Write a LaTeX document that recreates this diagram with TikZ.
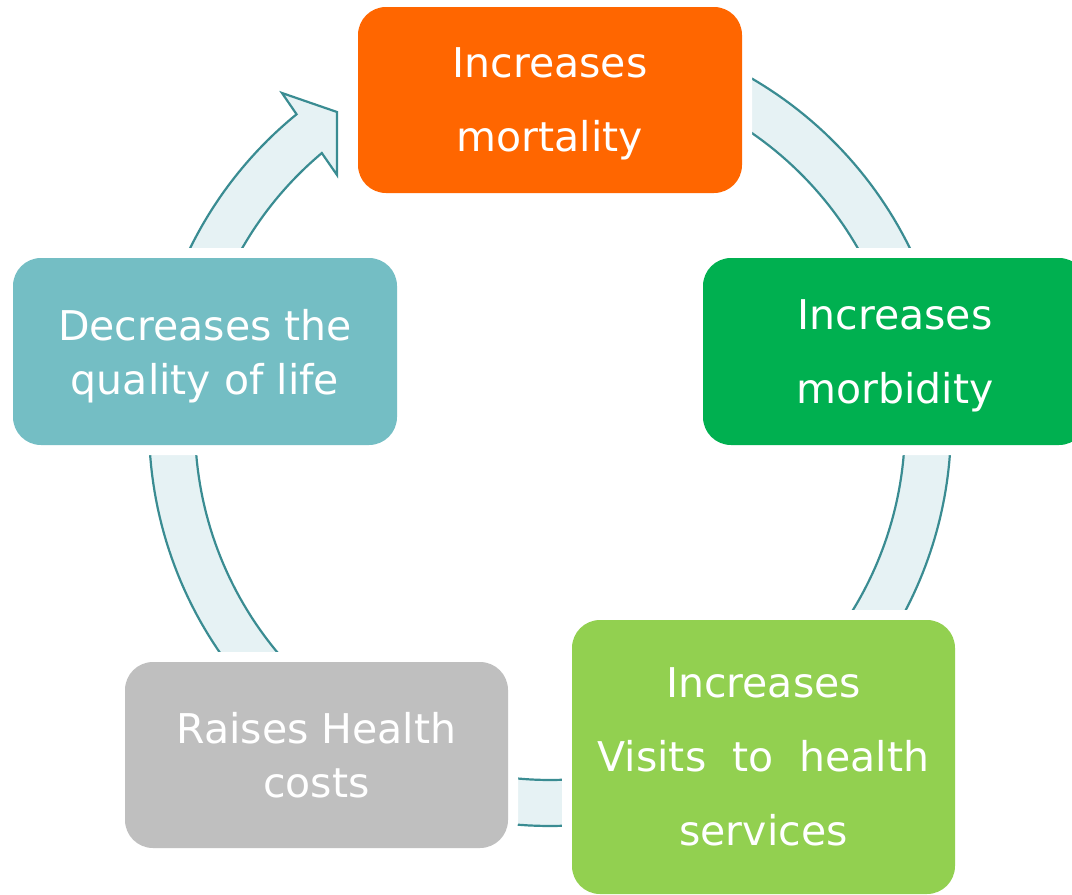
\documentclass[tikz,border=0pt]{standalone}
\usepackage{fontspec}
\setmainfont{DejaVu Sans}
\definecolor{cOrange}{RGB}{255,102,0}
\definecolor{cGreen}{RGB}{0,176,80}
\definecolor{cLime}{RGB}{146,208,80}
\definecolor{cGray}{RGB}{191,191,191}
\definecolor{cTeal}{RGB}{116,190,196}
\definecolor{ringFill}{RGB}{230,242,244}
\definecolor{ringLine}{RGB}{58,140,146}
\begin{document}
\begin{tikzpicture}[x=1pt,y=-1pt,
  box/.style={rounded corners=28pt, fill=#1, text=white, align=center, inner sep=0pt,
              preaction={draw=white, line width=20pt}},
  wide/.style={font=\fontsize{41}{74}\selectfont},
  tight/.style={font=\fontsize{41}{54}\selectfont},
  nodesc/.style={text depth=0pt},
  ring/.style={fill=ringFill, draw=ringLine, line width=2.2pt}]
\useasboundingbox (0,0) rectangle (1072,895);
% ring segments
\draw[ring] plot[domain=-75:-15,samples=50] ({550+401*cos(\x)},{425+401*sin(\x)})
  -- plot[domain=-15:-75,samples=50] ({550+355*cos(\x)},{425+355*sin(\x)}) -- cycle;
\draw[ring] plot[domain=-10:40,samples=50] ({550+401*cos(\x)},{425+401*sin(\x)})
  -- plot[domain=40:-10,samples=50] ({550+355*cos(\x)},{425+355*sin(\x)}) -- cycle;
\draw[ring] plot[domain=60:120,samples=50] ({550+401*cos(\x)},{425+401*sin(\x)})
  -- plot[domain=120:60,samples=50] ({550+355*cos(\x)},{425+355*sin(\x)}) -- cycle;
\draw[ring] plot[domain=130:190,samples=50] ({550+401*cos(\x)},{425+401*sin(\x)})
  -- plot[domain=190:130,samples=50] ({550+355*cos(\x)},{425+355*sin(\x)}) -- cycle;
\draw[ring] plot[domain=200:230.8,samples=40] ({550+401*cos(\x)},{425+401*sin(\x)})
  -- (282,93) -- (337,112) -- (337,175)
  -- plot[domain=230:200,samples=40] ({550+355*cos(\x)},{425+355*sin(\x)}) -- cycle;
% boxes
\node[box=cOrange, wide, nodesc, minimum width=384pt, minimum height=186pt] (mort) at (550,100) {Increases\\mortality};
\node[box=cGreen, wide, nodesc, minimum width=384pt, minimum height=187pt] (morb) at (895,351.5) {Increases\\morbidity};
\node[box=cLime, wide, minimum width=383pt, minimum height=274pt] (visits) at (763.5,757) {Increases\\Visits\ \ to\ \ health\\services};
\node[box=cGray, tight, minimum width=383pt, minimum height=186pt] (costs) at (316.5,755) {Raises Health\\costs};
\node[box=cTeal, tight, nodesc, minimum width=384pt, minimum height=187pt] (qual) at (205,351.5) {Decreases the\\quality of life};
\end{tikzpicture}
\end{document}
